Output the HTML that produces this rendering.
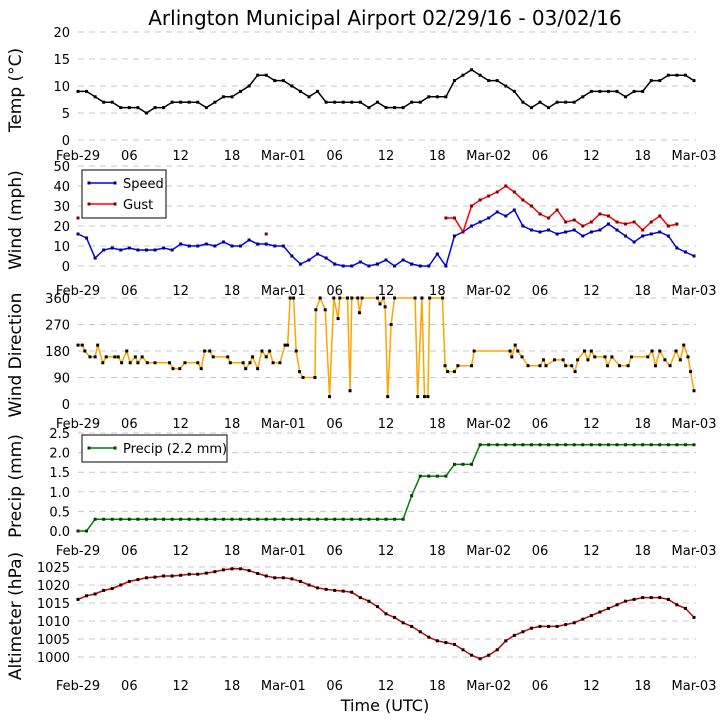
<!DOCTYPE html>
<html><head><meta charset="utf-8">
<style>
html,body{margin:0;padding:0;background:#fff;}
svg{display:block;font-family:"DejaVu Sans","Liberation Sans",sans-serif;}
</style></head>
<body>
<svg id="chart" width="726" height="725" viewBox="0 0 726 725">
<text x="385" y="25" font-size="20" text-anchor="middle">Arlington Municipal Airport 02/29/16 - 03/02/16</text>
<text x="385" y="711" font-size="16" text-anchor="middle">Time (UTC)</text>
</svg>
<script>
const xTickLabels = ["Feb-29","06","12","18","Mar-01","06","12","18","Mar-02","06","12","18","Mar-03"];
const hours = Array.from({length:73},(_,i)=>i);
const tempValues = [9,9,8,7,7,6,6,6,5,6,6,7,7,7,7,6,7,8,8,9,10,12,12,11,11,10,9,8,9,7,7,7,7,7,6,7,6,6,6,7,7,8,8,8,11,12,13,12,11,11,10,9,7,6,7,6,7,7,7,8,9,9,9,9,8,9,9,11,11,12,12,12,11];
const speedValues = [16,14,4,8,9,8,9,8,8,8,9,8,11,10,10,11,10,12,10,10,13,11,11,10,10,5,1,3,6,4,1,0,0,2,0,1,3,0,3,1,0,0,6,0,15,17,20,22,24,27,25,28,20,18,17,18,16,17,18,15,17,18,21,18,15,12,15,16,17,15,9,7,5];
const gustValues = [24,null,null,null,null,null,null,null,null,null,null,null,null,null,null,null,null,null,null,null,null,null,16,null,null,null,null,null,null,null,null,null,null,null,null,null,null,null,null,null,null,null,null,24,24,17,30,33,35,37,40,37,33,30,26,24,28,22,23,20,22,26,25,22,21,22,18,22,25,20,21,null,null];
const dirHours = [0,0.5,0.8,1.4,2.0,2.3,2.9,3.3,4.3,4.7,5.1,5.7,6.1,6.7,7.0,7.5,8.1,9.0,10.7,11.1,11.9,12.5,14.0,14.4,14.8,15.4,15.8,17.5,17.8,19.3,19.6,20.1,20.4,21.0,21.5,22.0,22.4,22.8,23.6,24.2,24.5,24.8,25.2,25.5,25.9,26.3,27.7,27.8,28.3,28.9,29.4,29.9,30.4,30.6,31.5,31.8,32.0,32.7,32.9,33.2,35.0,35.3,35.7,35.9,36.2,36.6,37.0,39.4,39.7,40.2,40.5,40.9,41.1,42.6,42.9,43.2,44.0,44.4,46.0,46.3,50.5,50.7,51.1,51.4,51.9,52.6,54.0,54.4,54.7,55.7,56.7,57.0,57.7,58.1,58.4,59.2,59.6,60.0,60.4,61.6,61.9,62.4,63.3,64.3,64.7,66.6,67.1,67.5,68.0,68.6,69.2,69.9,70.4,70.8,71.3,71.6,72];
const dirValues = [200,200,180,160,160,200,140,160,160,160,140,180,140,160,140,160,140,140,140,120,120,140,140,120,180,180,160,160,140,140,120,140,160,120,180,160,180,140,140,200,200,360,360,180,110,90,90,320,360,320,25,360,290,360,360,45,360,360,310,360,360,340,360,330,25,270,360,360,25,360,25,25,360,360,130,110,110,130,130,180,180,160,200,180,160,130,130,150,130,150,150,130,130,110,150,180,150,180,160,160,130,160,130,130,160,160,180,130,180,150,130,180,150,200,160,110,45];
const precipValues = [0,0,0.3,0.3,0.3,0.3,0.3,0.3,0.3,0.3,0.3,0.3,0.3,0.3,0.3,0.3,0.3,0.3,0.3,0.3,0.3,0.3,0.3,0.3,0.3,0.3,0.3,0.3,0.3,0.3,0.3,0.3,0.3,0.3,0.3,0.3,0.3,0.3,0.3,0.9,1.4,1.4,1.4,1.4,1.7,1.7,1.7,2.2,2.2,2.2,2.2,2.2,2.2,2.2,2.2,2.2,2.2,2.2,2.2,2.2,2.2,2.2,2.2,2.2,2.2,2.2,2.2,2.2,2.2,2.2,2.2,2.2,2.2];
const altValues = [1016,1017,1017.5,1018.5,1019,1020,1021,1021.5,1022,1022.2,1022.5,1022.5,1022.7,1023,1023,1023.3,1023.7,1024.2,1024.5,1024.5,1024,1023.2,1022.5,1022,1022,1021.7,1021,1020,1019.2,1018.8,1018.5,1018.3,1018,1016.5,1015.5,1014,1012,1011,1009.5,1008.5,1007,1005.5,1004.5,1004,1003.5,1002,1000.5,999.5,1000.5,1002,1004.5,1006,1007,1008,1008.5,1008.5,1008.5,1009,1009.5,1010.5,1011.5,1012.5,1013.5,1014.5,1015.5,1016,1016.5,1016.5,1016.5,1016,1014.5,1013.5,1011];

const svg = document.getElementById('chart');
const NS = 'http://www.w3.org/2000/svg';
const X0 = 78, X1 = 694;
function xs(h){ return X0 + (X1 - X0) * h / 72; }
function mk(tag, attrs, parent){
  const e = document.createElementNS(NS, tag);
  for (const k in attrs) e.setAttribute(k, attrs[k]);
  (parent || svg).appendChild(e);
  return e;
}
function panel(opt){
  const g = mk('g', {});
  
  
  const ys = v => opt.yb + (opt.yt - opt.yb) * (v - opt.vmin) / (opt.vmax - opt.vmin);
  opt.ticks.forEach((t, i) => {
    const y = ys(t);
    const gl = mk('line', {x1: X0, x2: X1 + 2, y1: y, y2: y, stroke: '#c8c8c8', 'stroke-dasharray': '6,5', 'stroke-width': 1}, g);
    
    
    const tl = mk('text', {x: 70, y: y + 5, 'font-size': 13, 'text-anchor': 'end'}, g);
    tl.textContent = opt.tickLabels[i];
    
    
  });
  if (opt.xLabelY) {
    xTickLabels.forEach((lab, i) => {
      const t = mk('text', {x: xs(i * 6), y: opt.xLabelY, 'font-size': 13, 'text-anchor': 'middle'}, g);
      t.textContent = lab;
      
      
    });
  }
  const yl = mk('text', {x: 0, y: 0, 'font-size': 17, 'text-anchor': 'middle', transform: `translate(21,${(opt.yt + opt.yb) / 2 + 4}) rotate(-90)`}, g);
  yl.textContent = opt.ylabel;
  
  
  return {g, ys};
}
function series(p, hrs, vals, color, markColor, name, ms){
  let seg = [];
  const segs = [];
  hrs.forEach((h, i) => {
    if (vals[i] === null) { if (seg.length) segs.push(seg); seg = []; }
    else seg.push([xs(h), p.ys(vals[i])]);
  });
  if (seg.length) segs.push(seg);
  segs.forEach(s => {
    if (s.length > 1) {
      const pl = mk('polyline', {points: s.map(q => q.join(',')).join(' '), fill: 'none', stroke: color, 'stroke-width': 1.5}, p.g);
      
      
    }
    s.forEach(q => {
      const r = mk('rect', {x: q[0] - ms / 2, y: q[1] - ms / 2, width: ms, height: ms, fill: markColor}, p.g);
      
      
    });
  });
}
function legend(p, x, y, w, entries){
  const h = entries.length * 21 + 6;
  const box = mk('rect', {x: x, y: y, width: w, height: h, fill: '#fff', stroke: '#000', 'stroke-width': 1}, p.g);
  
  
  entries.forEach((e, i) => {
    const cy = y + 13 + i * 21;
    const ln = mk('line', {x1: x + 6, x2: x + 34, y1: cy, y2: cy, stroke: e[1], 'stroke-width': 1.5}, p.g);
    
    
    [x + 7, x + 33].forEach(mx => {
      const r = mk('rect', {x: mx - 1.5, y: cy - 1.5, width: 3, height: 3, fill: e[2]}, p.g);
      
      
    });
    const t = mk('text', {x: x + 41, y: cy + 5, 'font-size': 13}, p.g);
    t.textContent = e[0];
    
    
  });
}

const pT = panel({name: 'temp', yt: 32, yb: 140, vmin: 0, vmax: 20, ticks: [0,5,10,15,20], tickLabels: ['0','5','10','15','20'], ylabel: 'Temp (\u00B0C)', xLabelY: 0});
series(pT, hours, tempValues, '#000', '#000', 'temp', 3);

const pW = panel({name: 'wind', yt: 166, yb: 266, vmin: 0, vmax: 50, ticks: [0,10,20,30,40,50], tickLabels: ['0','10','20','30','40','50'], ylabel: 'Wind (mph)', xLabelY: 160});
series(pW, hours, speedValues, '#0000ff', '#000080', 'wind-speed', 3);
series(pW, hours, gustValues, '#ff0000', '#800000', 'wind-gust', 3);
legend(pW, 82, 170, 84, [['Speed', '#0000ff', '#000080'], ['Gust', '#ff0000', '#800000']]);

const pD = panel({name: 'wind-direction', yt: 298, yb: 404, vmin: 0, vmax: 360, ticks: [0,90,180,270,360], tickLabels: ['0','90','180','270','360'], ylabel: 'Wind Direction', xLabelY: 295});
series(pD, dirHours, dirValues, '#ffa500', '#000', 'wind-direction', 3);

const pP = panel({name: 'precip', yt: 433, yb: 531, vmin: 0, vmax: 2.5, ticks: [0,0.5,1,1.5,2,2.5], tickLabels: ['0.0','0.5','1.0','1.5','2.0','2.5'], ylabel: 'Precip (mm)', xLabelY: 428});
series(pP, hours, precipValues, '#008000', '#004000', 'precip', 3);
legend(pP, 82, 435, 145, [['Precip (2.2 mm)', '#008000', '#004000']]);

const pA = panel({name: 'altimeter', yt: 567, yb: 657, vmin: 1000, vmax: 1025, ticks: [1000,1005,1010,1015,1020,1025], tickLabels: ['1000','1005','1010','1015','1020','1025'], ylabel: 'Altimeter (hPa)', xLabelY: 555});
series(pA, hours, altValues, '#cc0000', '#000', 'altimeter', 3);
xTickLabels.forEach((lab, i) => {
  const t = mk('text', {x: xs(i * 6), y: 690, 'font-size': 13, 'text-anchor': 'middle'});
  t.textContent = lab;
  
  
});
</script>
</body></html>
